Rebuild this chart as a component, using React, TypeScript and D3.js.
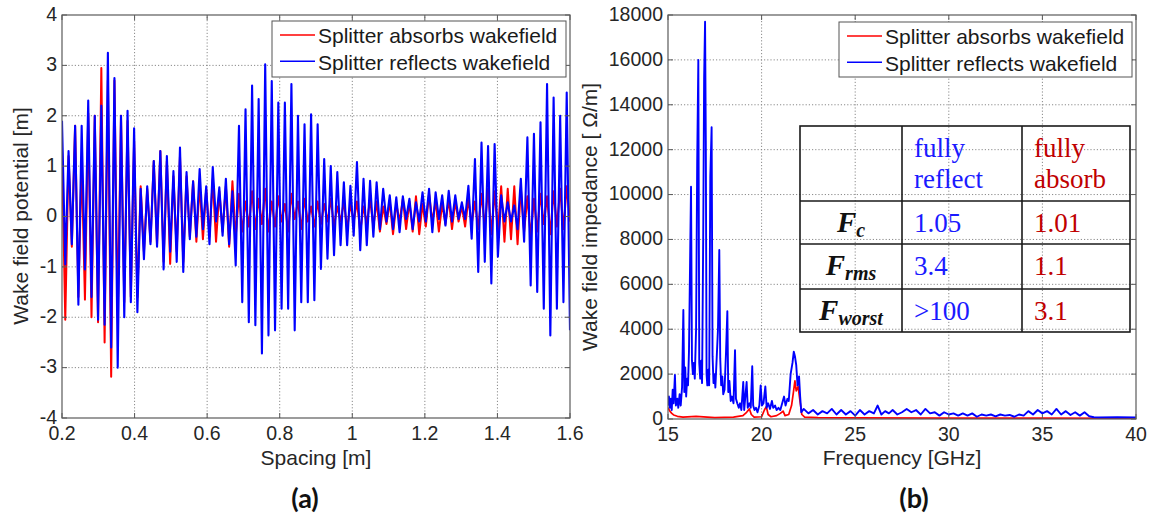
import React from "react";
import * as d3 from "d3";

// ---------- Panel (a): wake field potential, successive extrema (top, bottom per cycle) ----------
const reflectPotential = [
  1.9, -0.95, 1.3, -0.55, 1.8, -1.75, 1.8, -1.05, 2.3, -1.6, 2.0, -2.05, 2.2, -2.15, 3.25, -2.6,
  2.75, -3.0, 2.0, -2.0, 2.1, -1.7, 1.75, -1.9, 0.55, -0.85, 0.6, -0.55, 1.1, -0.6, 1.3, -1.05,
  1.2, -0.7, 0.9, -0.9, 1.37, -1.1, 0.88, -0.45, 0.7, -0.4, 0.94, -0.25, 0.6, -0.55, 0.98, -0.1,
  0.58, -0.38, 0.75, -0.55, 0.5, -0.97, 1.8, -1.7, 2.13, -2.1, 2.6, -2.16, 2.33, -2.72, 3.02, -2.36,
  2.69, -2.26, 2.26, -1.83, 2.26, -1.83, 2.63, -2.26, 2.0, -1.7, 1.83, -1.7, 2.03, -1.66, 1.83, -1.04,
  1.14, -0.84, 1.0, -0.77, 0.88, -0.57, 0.68, -0.57, 0.61, -0.38, 1.08, -0.67, 0.75, -0.57, 0.71, -0.4,
  0.68, -0.25, 0.55, -0.1, 0.42, -0.25, 0.38, -0.31, 0.4, -0.05, 0.35, -0.25, 0.28, -0.1, 0.48, -0.1,
  0.55, -0.31, 0.48, -0.05, 0.42, -0.18, 0.51, -0.1, 0.42, -0.05, 0.28, -0.05, 0.61, -0.44, 1.14, -1.1,
  1.47, -0.9, 1.4, -1.33, 1.44, -0.8, 0.42, -0.1, 0.28, -0.1, 0.22, -0.25, 0.75, -0.5, 1.57, -1.37,
  1.64, -1.5, 1.87, -1.83, 2.63, -2.36, 2.36, -1.83, 2.0, -1.7, 2.46, -2.26,
];

const absorbPotential = [
  1.3, -2.05, 1.2, -0.6, 1.8, -1.6, 1.1, -1.65, 2.05, -2.0, 2.0, -2.1, 2.95, -2.5, 2.7, -3.18,
  2.7, -2.0, 2.0, -1.7, 1.9, -1.6, 1.5, -1.6, 0.6, -0.7, 0.55, -0.5, 1.1, -0.55, 1.3, -0.9,
  1.1, -0.94, 0.8, -0.7, 1.2, -0.9, 0.8, -0.4, 0.7, -0.5, 0.65, -0.45, 0.55, -0.4, 0.75, -0.5,
  0.5, -0.3, 0.6, -0.6, 0.7, -0.4, 0.45, -0.3, 0.3, -0.2, 0.5, -0.25, 0.35, -0.15, 0.55, -0.3,
  0.3, -0.2, 0.4, -0.1, 0.25, -0.3, 0.45, -0.05, 0.3, -0.25, 0.35, -0.1, 0.2, -0.2, 0.3, -0.15,
  0.25, -0.1, 0.35, -0.2, 0.2, -0.1, 0.3, -0.25, 0.25, -0.1, 0.3, -0.3, 0.2, -0.15, 0.35, -0.2,
  0.3, -0.3, 0.2, -0.15, 0.3, -0.35, 0.25, -0.1, 0.35, -0.25, 0.3, -0.3, 0.4, -0.35, 0.25, -0.2,
  0.45, -0.1, 0.3, -0.3, 0.25, -0.15, 0.35, -0.25, 0.3, -0.1, 0.2, -0.2, 0.35, -0.15, 0.3, -0.25,
  0.45, -0.2, 0.55, -0.35, 0.5, -0.3, 0.6, -0.5, 0.55, -0.45, 0.6, -0.55, 0.55, -0.3, 0.4, -0.4,
  0.35, -0.3, 0.45, -0.15, 0.4, -0.35, 0.5, -0.2, 0.55, -0.25, 0.6, -0.1,
];

const spacingTicks = [0.2, 0.4, 0.6, 0.8, 1, 1.2, 1.4, 1.6];
const potentialTicks = [-4, -3, -2, -1, 0, 1, 2, 3, 4];

// ---------- Panel (b): wake field impedance spectrum ----------
const reflectFreq = [
  15.0, 15.05, 15.1, 15.15, 15.2, 15.25, 15.3, 15.37, 15.42, 15.5, 15.55, 15.62, 15.68, 15.75, 15.82, 15.87,
  15.92, 15.97, 16.02, 16.07, 16.12, 16.18, 16.23, 16.28, 16.33, 16.38, 16.43, 16.5, 16.56, 16.62, 16.67, 16.72,
  16.77, 16.82, 16.88, 16.93, 16.98, 17.02, 17.06, 17.1, 17.15, 17.2, 17.26, 17.33, 17.38, 17.43, 17.48, 17.53,
  17.6, 17.67, 17.74, 17.79, 17.84, 17.9, 17.95, 18.02, 18.1, 18.17, 18.22, 18.28, 18.35, 18.42, 18.5, 18.58,
  18.63, 18.7, 18.78, 18.85, 18.92, 19.02, 19.07, 19.13, 19.2, 19.26, 19.35, 19.42, 19.5, 19.55, 19.62, 19.7,
  19.78, 19.88, 19.95, 20.02, 20.1, 20.2, 20.27, 20.35, 20.45, 20.55, 20.62, 20.72, 20.8, 20.9, 21.0, 21.1,
  21.2, 21.28, 21.38, 21.45, 21.55, 21.65, 21.72, 21.78, 21.85, 21.92, 22.0, 22.06, 22.12, 22.25, 22.5, 22.75,
  23.0, 23.25, 23.5, 23.75, 24.0, 24.25, 24.5, 24.75, 25.0, 25.25, 25.5, 25.75, 26.0, 26.2, 26.4, 26.6,
  26.8, 27.0, 27.25, 27.5, 27.75, 28.0, 28.25, 28.5, 28.75, 29.0, 29.25, 29.5, 29.75, 30.0, 30.25, 30.5,
  30.75, 31.0, 31.25, 31.5, 31.75, 32.0, 32.25, 32.5, 32.75, 33.0, 33.25, 33.5, 33.75, 34.0, 34.25, 34.5,
  34.75, 35.0, 35.25, 35.5, 35.75, 36.0, 36.25, 36.5, 36.75, 37.0, 37.25, 37.5, 37.75, 38.0, 39.0, 40.0,
];
const reflectImpedance = [
  600, 1000, 500, 900, 400, 1300, 700, 1960, 600, 900, 500, 1100, 600, 1400, 4860, 1200,
  2300, 1000, 1800, 1500, 3000, 7000, 10350, 2600, 2000, 2500, 1800, 4000, 11500, 16000, 2500, 1800,
  2600, 1600, 8000, 15200, 17700, 12400, 2000, 1500, 2200, 1500, 10800, 13000, 2800, 1600, 2000, 1400,
  2700, 4000, 7530, 2700, 1500, 1900, 1100, 1300, 3000, 4800, 1200, 1700, 800, 1000, 700, 3070,
  900, 700, 500, 700, 400, 1650, 400, 1000, 1650, 500, 700, 500, 2350, 600, 400, 500,
  300, 600, 1500, 600, 700, 1450, 500, 700, 450, 800, 500, 600, 400, 500, 400, 700,
  1000, 600, 900, 800, 2000, 2500, 3000, 2800, 2400, 1500, 1900, 1000, 300, 450, 250, 400,
  200, 350, 250, 450, 200, 400, 200, 350, 150, 400, 200, 350, 250, 600, 200, 350,
  250, 400, 200, 300, 450, 300, 400, 200, 450, 250, 300, 150, 300, 200, 250, 150,
  250, 150, 250, 100, 200, 150, 200, 120, 200, 150, 180, 100, 200, 150, 350, 200,
  400, 250, 350, 200, 450, 200, 350, 180, 300, 150, 300, 120, 80, 70, 80, 70,
];

const absorbFreq = [
  15.0, 15.1, 15.2, 15.3, 15.5, 15.8, 16.5, 17.5, 18.5, 19.0, 19.2, 19.35, 19.45, 19.6, 20.0, 20.15,
  20.25, 20.35, 20.5, 20.8, 21.0, 21.15, 21.25, 21.45, 21.6, 21.7, 21.78, 21.85, 21.95, 22.05, 22.15, 22.3,
  23.0, 25.0, 30.0, 35.0, 40.0,
];
const absorbImpedance = [
  500, 350, 250, 180, 120, 80, 120, 60, 80, 150, 300, 450, 200, 80, 100, 400,
  550, 200, 100, 150, 250, 350, 150, 200, 600, 1200, 1700, 1250, 1450, 800, 200, 80,
  60, 50, 40, 40, 30,
];

const frequencyTicks = [15, 20, 25, 30, 35, 40];
const impedanceTicks = [0, 2000, 4000, 6000, 8000, 10000, 12000, 14000, 16000, 18000];

// ---------- Table ----------
const tableHeaderReflect = ["fully", "reflect"];
const tableHeaderAbsorb = ["fully", "absorb"];
const factorSubscripts = ["c", "rms", "worst"];
const reflectFactors = ["1.05", "3.4", ">100"];
const absorbFactors = ["1.01", "1.1", "3.1"];

const legendLabels = ["Splitter absorbs wakefield", "Splitter reflects wakefield"];
const RED = "#ff0000";
const BLUE = "#0000ff";
const SANS = "'Liberation Sans', Arial, sans-serif";
const SERIF = "'Liberation Serif', 'Times New Roman', serif";

type AxesProps = {
  x: d3.ScaleLinear<number, number>;
  y: d3.ScaleLinear<number, number>;
  xTicks: number[];
  yTicks: number[];
  id: string;
  children?: React.ReactNode;
};

function Axes({ x, y, xTicks, yTicks, id, children }: AxesProps) {
  const [x0, x1] = x.range();
  const [y0, y1] = y.range(); // y0 bottom, y1 top
  const grid = "#8a8a8a";
  const tl = 5;
  return (
    <g>
      <defs>
        <clipPath id={id}>
          <rect x={x0} y={y1} width={x1 - x0} height={y0 - y1} />
        </clipPath>
      </defs>
      {xTicks.slice(1, -1).map((t) => (
        <line key={"gx" + t} x1={x(t)} x2={x(t)} y1={y0} y2={y1} stroke={grid} strokeWidth={1} strokeDasharray="1.2,2" />
      ))}
      {yTicks.slice(1, -1).map((t) => (
        <line key={"gy" + t} x1={x0} x2={x1} y1={y(t)} y2={y(t)} stroke={grid} strokeWidth={1} strokeDasharray="1.2,2" />
      ))}
      <g clipPath={`url(#${id})`}>{children}</g>
      <rect x={x0} y={y1} width={x1 - x0} height={y0 - y1} fill="none" stroke="#5a5a5a" strokeWidth={1.2} />
      {xTicks.map((t) => (
        <g key={"tx" + t}>
          <line x1={x(t)} x2={x(t)} y1={y0} y2={y0 - tl} stroke="#5a5a5a" />
          <line x1={x(t)} x2={x(t)} y1={y1} y2={y1 + tl} stroke="#5a5a5a" />
          <text x={x(t)} y={y0 + 22} textAnchor="middle" fontSize={19.5} fill="#262626" fontFamily={SANS}>
            {String(t)}
          </text>
        </g>
      ))}
      {yTicks.map((t) => (
        <g key={"ty" + t}>
          <line x1={x0} x2={x0 + tl} y1={y(t)} y2={y(t)} stroke="#5a5a5a" />
          <line x1={x1} x2={x1 - tl} y1={y(t)} y2={y(t)} stroke="#5a5a5a" />
          <text x={x0 - 5} y={y(t)} dy="0.3em" textAnchor="end" fontSize={19.5} fill="#262626" fontFamily={SANS}>
            {String(t)}
          </text>
        </g>
      ))}
    </g>
  );
}

function Legend({ x, y, w, h }: { x: number; y: number; w: number; h: number }) {
  const colors = [RED, BLUE];
  return (
    <g>
      <rect x={x} y={y} width={w} height={h} fill="#fff" stroke="#555" strokeWidth={1} />
      {legendLabels.map((lab, i) => {
        const cy = y + 14 + i * 26.3;
        return (
          <g key={lab}>
            <line x1={x + 8} x2={x + 43} y1={cy} y2={cy} stroke={colors[i]} strokeWidth={1.6} />
            <text x={x + 46} y={cy + 1} dy="0.35em" fontSize={21} fill="#1a1a1a" fontFamily={SANS}>
              {lab}
            </text>
          </g>
        );
      })}
    </g>
  );
}

export default function App() {
  const W = 1152;
  const H = 523;

  // panel (a)
  const xa = d3.scaleLinear().domain([0.2, 1.6]).range([62, 570]);
  const ya = d3.scaleLinear().domain([-4, 4]).range([418, 15]);
  const idxB = d3.scaleLinear().domain([0, reflectPotential.length - 1]).range([0.2, 1.6]);
  const idxR = d3.scaleLinear().domain([0, absorbPotential.length - 1]).range([0.2, 1.6]);
  const lineB = d3.line<number>().x((d, i) => xa(idxB(i))).y((d) => ya(d));
  const lineR = d3.line<number>().x((d, i) => xa(idxR(i))).y((d) => ya(d));

  // panel (b)
  const xb = d3.scaleLinear().domain([15, 40]).range([668, 1136]);
  const yb = d3.scaleLinear().domain([0, 18000]).range([419, 15]);
  const specB = d3.line<number>().x((d, i) => xb(reflectFreq[i])).y((d) => yb(d));
  const specR = d3.line<number>().x((d, i) => xb(absorbFreq[i])).y((d) => yb(d));

  // table geometry
  const tx0 = 800, tx1 = 902, tx2 = 1022, tx3 = 1130;
  const rowTops = [126, 201, 244, 289, 332];

  return (
    <svg width={W} height={H} style={{ position: "absolute", left: 0, top: 0, background: "#fff" }}>
      <rect width={W} height={H} fill="#fff" />
      {/* Panel (a) */}
      <Axes x={xa} y={ya} xTicks={spacingTicks} yTicks={potentialTicks} id="clipA">
        <path d={lineR(absorbPotential) || ""} fill="none" stroke={RED} strokeWidth={2} strokeLinejoin="round" />
        <path d={lineB(reflectPotential) || ""} fill="none" stroke={BLUE} strokeWidth={2.1} strokeLinejoin="round" />
      </Axes>
      <Legend x={272} y={21} w={294} h={56} />
      <text transform="translate(28,216) rotate(-90)" textAnchor="middle" fontSize={21} fill="#262626" fontFamily={SANS}>
        Wake field potential [m]
      </text>
      <text x={316} y={465} textAnchor="middle" fontSize={21} fill="#262626" fontFamily={SANS}>
        Spacing [m]
      </text>
      <text x={305} y={508} textAnchor="middle" fontSize={27} fontWeight="bold" fill="#111" fontFamily="Lato, 'Open Sans', sans-serif">
        (a)
      </text>

      {/* Panel (b) */}
      <Axes x={xb} y={yb} xTicks={frequencyTicks} yTicks={impedanceTicks} id="clipB">
        <path d={specR(absorbImpedance) || ""} fill="none" stroke={RED} strokeWidth={1.7} strokeLinejoin="round" />
        <path d={specB(reflectImpedance) || ""} fill="none" stroke={BLUE} strokeWidth={1.9} strokeLinejoin="round" />
      </Axes>
      <Legend x={839} y={22} w={293} h={55} />
      <text transform="translate(597,217) rotate(-90)" textAnchor="middle" fontSize={21} fill="#262626" fontFamily={SANS}>
        Wake field impedance [ Ω/m]
      </text>
      <text x={902} y={465} textAnchor="middle" fontSize={21} fill="#262626" fontFamily={SANS}>
        Frequency [GHz]
      </text>
      <text x={914} y={508} textAnchor="middle" fontSize={27} fontWeight="bold" fill="#111" fontFamily="Lato, 'Open Sans', sans-serif">
        (b)
      </text>

      {/* Table */}
      <g stroke="#1a1a1a" strokeWidth={1.6} fill="none">
        <rect x={tx0} y={rowTops[0]} width={tx3 - tx0} height={rowTops[4] - rowTops[0]} />
        {rowTops.slice(1, 4).map((r) => (
          <line key={"r" + r} x1={tx0} x2={tx3} y1={r} y2={r} />
        ))}
        <line x1={tx1} x2={tx1} y1={rowTops[0]} y2={rowTops[4]} />
        <line x1={tx2} x2={tx2} y1={rowTops[0]} y2={rowTops[4]} />
      </g>
      <g fontFamily={SERIF} fontSize={27}>
        {tableHeaderReflect.map((s, i) => (
          <text key={"hr" + i} x={914} y={157 + i * 31} fill="#1a1aff">{s}</text>
        ))}
        {tableHeaderAbsorb.map((s, i) => (
          <text key={"ha" + i} x={1034} y={157 + i * 31} fill="#c00000">{s}</text>
        ))}
        {factorSubscripts.map((sub, i) => (
          <text key={"f" + i} x={(tx0 + tx1) / 2} y={rowTops[i + 1] + 31} textAnchor="middle" fontWeight="bold" fontStyle="italic" fill="#111">
            <tspan fontSize={29}>F</tspan>
            <tspan fontSize={20} dy={5}>{sub}</tspan>
          </text>
        ))}
        {reflectFactors.map((v, i) => (
          <text key={"rv" + i} x={914} y={rowTops[i + 1] + 31} fill="#1a1aff">{v}</text>
        ))}
        {absorbFactors.map((v, i) => (
          <text key={"av" + i} x={1034} y={rowTops[i + 1] + 31} fill="#c00000">{v}</text>
        ))}
      </g>
    </svg>
  );
}
